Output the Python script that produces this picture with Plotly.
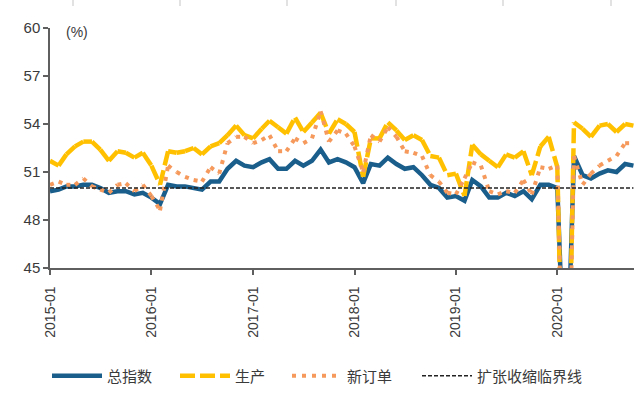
import plotly.graph_objects as go

# ---- data (monthly, 2015-01 .. 2020-10) ----
months = [f"{y}-{m:02d}-01" for y in range(2015, 2021) for m in range(1, 13)][:70]

total_index = [
    49.8, 49.9, 50.1, 50.1, 50.2, 50.2, 50.0, 49.7, 49.8, 49.8, 49.6, 49.7,
    49.4, 49.0, 50.2, 50.1, 50.1, 50.0, 49.9, 50.4, 50.4, 51.2, 51.7, 51.4,
    51.3, 51.6, 51.8, 51.2, 51.2, 51.7, 51.4, 51.7, 52.4, 51.6, 51.8, 51.6,
    51.3, 50.3, 51.5, 51.4, 51.9, 51.5, 51.2, 51.3, 50.8, 50.2, 50.0, 49.4,
    49.5, 49.2, 50.5, 50.1, 49.4, 49.4, 49.7, 49.5, 49.8, 49.3, 50.2, 50.2,
    50.0, 35.7, 52.0, 50.8, 50.6, 50.9, 51.1, 51.0, 51.5, 51.4,
]
production = [
    51.7, 51.4, 52.1, 52.6, 52.9, 52.9, 52.4, 51.7, 52.3, 52.2, 51.9, 52.2,
    51.4, 50.2, 52.3, 52.2, 52.3, 52.5, 52.1, 52.6, 52.8, 53.3, 53.9, 53.3,
    53.1, 53.7, 54.2, 53.8, 53.4, 54.4, 53.5, 54.1, 54.7, 53.4, 54.3, 54.0,
    53.5, 50.7, 53.1, 53.1, 54.1, 53.6, 53.0, 53.3, 53.0, 52.0, 51.9, 50.8,
    50.9, 49.5, 52.7, 52.1, 51.7, 51.3, 52.1, 51.9, 52.3, 50.8, 52.6, 53.2,
    51.3, 27.8, 54.1, 53.7, 53.2, 53.9, 54.0, 53.5, 54.0, 53.9,
]
new_orders = [
    50.2, 50.4, 50.2, 50.2, 50.6, 50.1, 49.9, 49.7, 50.2, 50.3, 49.8, 50.2,
    49.5, 48.6, 51.4, 51.0, 50.7, 50.5, 50.4, 51.3, 50.9, 52.8, 53.2, 53.2,
    52.8, 53.0, 53.3, 52.3, 52.3, 53.1, 52.8, 53.1, 54.8, 52.9, 53.6, 53.4,
    52.6, 51.0, 53.3, 52.9, 53.8, 53.2, 52.3, 52.2, 52.0, 50.8, 50.4, 49.7,
    49.6, 50.6, 51.6, 51.4, 49.8, 49.6, 49.8, 49.7, 50.5, 49.6, 51.3, 51.2,
    51.4, 29.3, 52.0, 50.2, 50.9, 51.4, 51.7, 52.0, 52.8, 52.8,
]
threshold = [50.0] * len(months)

series_names = ["总指数", "生产", "新订单", "扩张收缩临界线"]
y_ticks = [45, 48, 51, 54, 57, 60]
x_ticks = [f"{y}-01-01" for y in range(2015, 2021)]
x_tick_text = [f"{y}-01" for y in range(2015, 2021)]
unit_label = "(%)"

BLUE = "#1a5e8c"
YELLOW = "#ffc000"
ORANGE = "#f59a5c"
AXIS = "#5f5f5f"
TEXT = "#3a3a3a"
FONT = "Liberation Sans, Arial, Noto Sans CJK SC, sans-serif"

W, H = 636, 394


def per_segment(xs, ys):
    """Split a series into month-to-month sub-paths so the dash pattern
    restarts at every data point (as the original chart software does)."""
    sx, sy = [], []
    for i in range(len(xs) - 1):
        sx += [xs[i], xs[i + 1], None]
        sy += [ys[i], ys[i + 1], None]
    return sx, sy


px_, py_ = per_segment(months, production)
nx_, ny_ = per_segment(months, new_orders)

fig = go.Figure()
fig.add_trace(go.Scatter(x=months, y=total_index, name=series_names[0], mode="lines",
                         line=dict(color=BLUE, width=4.5), legend="legend"))
fig.add_trace(go.Scatter(x=px_, y=py_, name=series_names[1], mode="lines",
                         connectgaps=False,
                         line=dict(color=YELLOW, width=4.5, dash="15px,5px"), legend="legend2"))
fig.add_trace(go.Scatter(x=nx_, y=ny_, name=series_names[2], mode="lines",
                         connectgaps=False,
                         line=dict(color=ORANGE, width=4, dash="4px,6px"), legend="legend3"))
fig.add_trace(go.Scatter(x=months, y=threshold, name=series_names[3], mode="lines",
                         line=dict(color="#222222", width=1.3, dash="4px,2px"), legend="legend4"))

# faint artefact tick marks along the very top of the picture
top_marks = [73, 180, 287, 396, 503, 611]
shapes = []
for px in top_marks:
    xp = (px - 50) / 584
    shapes.append(dict(type="line", xref="paper", yref="paper", x0=xp, x1=xp,
                       y0=1 + 22 / 240, y1=1 + 28 / 240,
                       line=dict(color="#d8d8d8", width=1.5)))


def legend_at(px):
    return dict(orientation="h", xref="container", yref="container",
                x=px / W, y=1 - 376 / H, xanchor="left", yanchor="middle",
                itemwidth=50, font=dict(size=15, color=TEXT),
                bgcolor="rgba(0,0,0,0)")


fig.update_layout(
    width=W, height=H,
    margin=dict(l=50, r=2, t=28, b=126),
    paper_bgcolor="white", plot_bgcolor="white",
    font=dict(family=FONT, size=15, color=TEXT),
    showlegend=True,
    legend=legend_at(47),
    legend2=legend_at(175),
    legend3=legend_at(287),
    legend4=legend_at(417),
    xaxis=dict(type="date", range=["2015-01-01", "2020-10-03"],
               tickvals=x_ticks, ticktext=x_tick_text, tickangle=-90,
               ticks="outside", ticklen=5, tickcolor=AXIS, tickwidth=1.5,
               showline=True, linecolor=AXIS, linewidth=1.5,
               showgrid=False, zeroline=False,
               tickfont=dict(size=14, color=TEXT), ticklabelstandoff=6),
    yaxis=dict(range=[45, 60], tickvals=y_ticks,
               ticks="outside", ticklen=5, tickcolor=AXIS, tickwidth=1.5,
               showline=True, linecolor=AXIS, linewidth=1.5,
               showgrid=False, zeroline=False,
               tickfont=dict(size=15, color=TEXT)),
    annotations=[dict(text=unit_label, xref="paper", yref="paper",
                      x=14 / 584, y=1 - 4 / 240, xanchor="left", yanchor="middle",
                      showarrow=False, font=dict(size=14, color=TEXT))],
    shapes=shapes,
)

fig.write_html("out.html",
               config={"displayModeBar": False},
               post_script="document.body.style.margin='0';document.body.style.overflow='hidden';")
